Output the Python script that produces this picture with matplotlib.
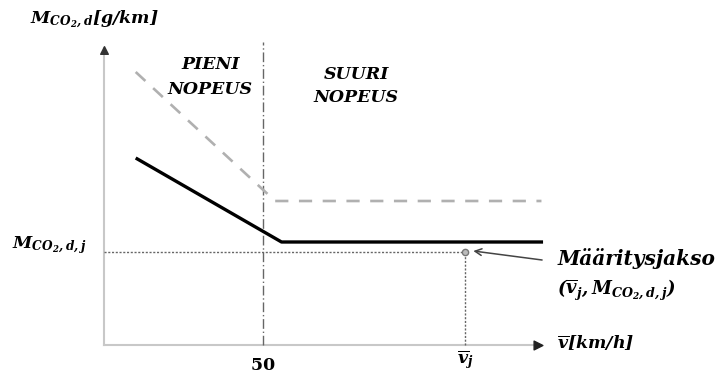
import matplotlib
matplotlib.use("Agg")
import matplotlib.pyplot as plt

plt.rcParams["mathtext.fontset"] = "custom"
plt.rcParams["mathtext.it"] = "DejaVu Serif:bold:italic"
plt.rcParams["mathtext.rm"] = "DejaVu Serif:bold:italic"
plt.rcParams["mathtext.bf"] = "DejaVu Serif:bold"
plt.rcParams["font.family"] = "DejaVu Serif"

# Speed (km/h) and emission (g/km) breakpoints of the two curves
speed_limit = 50
actual_speed = [10, 56, 138.5]
actual_emis = [187, 103, 103]
ref_speed = [10, 54, 138]
ref_emis = [273, 144, 144]

# Evaluation period (mean speed, emission)
period_speed = 114
period_emis = 93

# Axis extents
x_axis_end = 138
y_axis_end = 297
divider_top = 303

fig = plt.figure(figsize=(7.21, 3.74), dpi=100)
ax = fig.add_axes([0, 0, 1, 1])
px = 3.17  # pixels per km/h
ax.set_xlim(-104 / px, (721 - 104) / px)
ax.set_ylim(-29, 345)
ax.axis("off")

# Axes with arrowheads
ax.plot([0, x_axis_end], [0, 0], color="#c8c8c8", lw=1.5)
ax.plot([0, 0], [0, y_axis_end], color="#c8c8c8", lw=1.5)
ax.scatter([x_axis_end - 1], [0], marker=">", s=40, color="#222222", zorder=5)
ax.scatter([0], [y_axis_end - 2], marker="^", s=30, color="#333333", zorder=5)

# Low/high speed divider
ax.plot([speed_limit, speed_limit], [0, divider_top], color="#666666",
        lw=1.0, dashes=[7, 2, 1, 2])

# Curves
ax.plot(ref_speed, ref_emis, color="#b0b0b0", lw=1.9, dashes=[5, 4])
ax.plot(actual_speed, actual_emis, color="black", lw=2.4,
        solid_capstyle="butt")

# Evaluation period point with guide lines
ax.plot([0, period_speed], [period_emis, period_emis], color="#666666",
        lw=1.0, dashes=[1.5, 1.2])
ax.plot([period_speed, period_speed], [0, period_emis], color="#666666",
        lw=1.0, dashes=[1.5, 1.2])
ax.plot([period_speed], [period_emis], marker="o", ms=4.5,
        mfc="#bbbbbb", mec="#777777", mew=1)
ax.annotate("", xy=(period_speed + 2.5, period_emis + 1),
            xytext=(138.2, 85),
            arrowprops=dict(arrowstyle="->", color="#444444", lw=1.1,
                            mutation_scale=12, shrinkA=0, shrinkB=0))

# Labels
ax.text(-23.5, 325, r"$M_{CO_{2},d}[g/km]$", fontsize=12.5,
        ha="left", va="center")
ax.text(-29, 100, r"$M_{CO_{2},d,j}$", fontsize=12.5,
        ha="left", va="center")
ax.text(speed_limit, -20, r"$\mathbf{50}$", fontsize=12.5,
        ha="center", va="center")
ax.text(period_speed, -15, r"$\overline{v}_{j}$", fontsize=12.5,
        ha="center", va="center")
ax.text(143, 2, r"$\overline{v}[km/h]$", fontsize=12.5,
        ha="left", va="center")
ax.text(143, 86, "Määritysjakso", fontsize=14.5, fontweight="bold",
        style="italic", ha="left", va="center")
ax.text(143, 55, r"$(\overline{v}_{j}, M_{CO_{2},d,j})$", fontsize=13,
        ha="left", va="center")
ax.text(33.5, 268, "PIENI\nNOPEUS", fontsize=12.5, fontweight="bold",
        style="italic", ha="center", va="center", linespacing=1.55)
ax.text(79.5, 259, "SUURI\nNOPEUS", fontsize=12.5, fontweight="bold",
        style="italic", ha="center", va="center", linespacing=1.45)

fig.savefig("out.png", dpi=100)
